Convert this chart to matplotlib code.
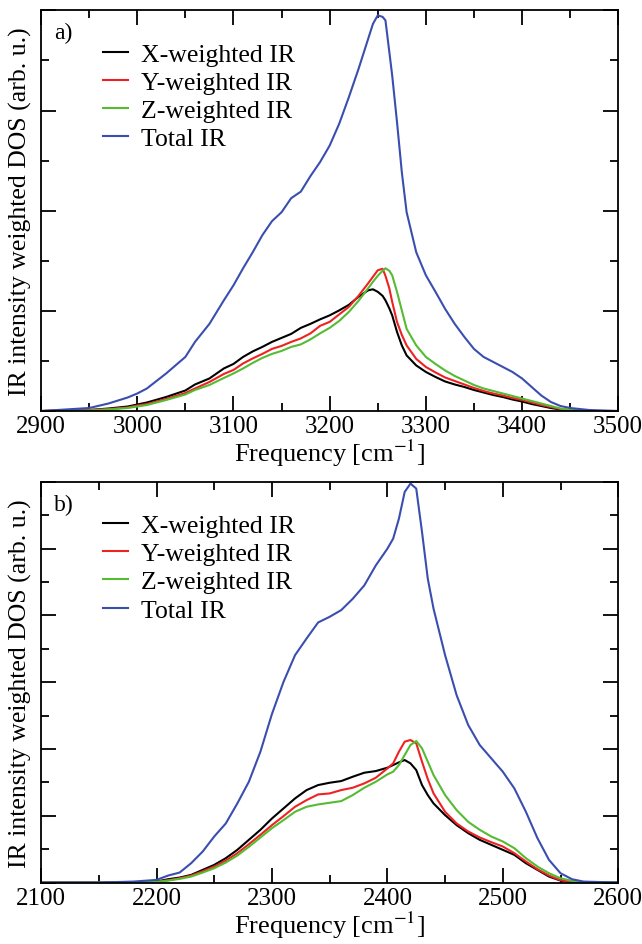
import matplotlib
matplotlib.use('Agg')
import matplotlib.pyplot as plt
from matplotlib.ticker import MultipleLocator, NullFormatter

plt.rcParams['font.family'] = ['Liberation Serif', 'DejaVu Serif']
plt.rcParams['mathtext.fontset'] = 'stix'

# panel a) : 2900 - 3500 cm^-1
freq_a = [2900, 2950, 2970, 2990, 3000, 3010, 3030, 3050, 3060, 3075, 3090, 3100,
          3110, 3120, 3130, 3140, 3150, 3160, 3170, 3180, 3190, 3200, 3210, 3220,
          3230, 3240, 3245, 3250, 3255, 3258, 3262, 3265, 3270, 3275, 3280, 3290,
          3300, 3310, 3320, 3330, 3340, 3350, 3360, 3370, 3380, 3390, 3400, 3410,
          3420, 3430, 3440, 3450, 3470, 3500]
total_a = [0.0, 0.06, 0.15, 0.27, 0.35, 0.45, 0.75, 1.08, 1.38, 1.74, 2.21, 2.51,
           2.85, 3.17, 3.51, 3.79, 3.97, 4.25, 4.38, 4.69, 4.97, 5.30, 5.74, 6.27,
           6.83, 7.43, 7.73, 7.90, 7.87, 7.80, 7.17, 6.70, 5.77, 4.77, 3.97, 3.17,
           2.71, 2.38, 2.04, 1.74, 1.48, 1.24, 1.08, 0.98, 0.88, 0.78, 0.65, 0.48,
           0.31, 0.18, 0.10, 0.06, 0.02, 0.0]
x_a = [0.0, 0.02, 0.05, 0.09, 0.13, 0.17, 0.28, 0.41, 0.53, 0.65, 0.85, 0.94,
       1.08, 1.19, 1.28, 1.38, 1.46, 1.54, 1.66, 1.74, 1.83, 1.91, 2.01, 2.12,
       2.28, 2.41, 2.43, 2.38, 2.30, 2.21, 2.05, 1.91, 1.58, 1.31, 1.11, 0.91,
       0.78, 0.68, 0.59, 0.53, 0.48, 0.42, 0.37, 0.32, 0.28, 0.23, 0.19, 0.14,
       0.10, 0.06, 0.03, 0.01, 0.0, 0.0]
y_a = [0.0, 0.02, 0.04, 0.07, 0.11, 0.14, 0.24, 0.36, 0.45, 0.58, 0.74, 0.82,
       0.95, 1.05, 1.14, 1.24, 1.30, 1.38, 1.45, 1.55, 1.70, 1.78, 1.93, 2.08,
       2.30, 2.55, 2.68, 2.81, 2.84, 2.70, 2.45, 2.18, 1.78, 1.52, 1.31, 1.04,
       0.88, 0.77, 0.67, 0.60, 0.53, 0.46, 0.40, 0.35, 0.31, 0.26, 0.22, 0.17,
       0.12, 0.08, 0.04, 0.02, 0.0, 0.0]
z_a = [0.0, 0.01, 0.03, 0.06, 0.09, 0.12, 0.22, 0.33, 0.42, 0.52, 0.66, 0.75,
       0.85, 0.96, 1.06, 1.14, 1.20, 1.28, 1.33, 1.43, 1.55, 1.66, 1.80, 1.98,
       2.20, 2.45, 2.58, 2.70, 2.80, 2.85, 2.80, 2.71, 2.38, 2.01, 1.64, 1.31,
       1.08, 0.94, 0.81, 0.70, 0.61, 0.52, 0.45, 0.40, 0.35, 0.30, 0.25, 0.20,
       0.15, 0.10, 0.05, 0.02, 0.0, 0.0]

# panel b) : 2100 - 2600 cm^-1
freq_b = [2100, 2150, 2180, 2200, 2210, 2220, 2230, 2240, 2250, 2260, 2270, 2280,
          2290, 2300, 2310, 2320, 2330, 2340, 2350, 2360, 2370, 2380, 2390, 2400,
          2405, 2410, 2415, 2420, 2425, 2430, 2435, 2440, 2450, 2460, 2470, 2480,
          2490, 2500, 2510, 2520, 2530, 2540, 2550, 2560, 2570, 2600]
total_b = [0.0, 0.0, 0.03, 0.08, 0.21, 0.30, 0.58, 0.93, 1.38, 1.77, 2.37, 3.02,
           3.92, 5.05, 6.01, 6.81, 7.31, 7.79, 7.96, 8.16, 8.50, 8.90, 9.50, 10.0,
           10.3, 10.9, 11.7, 11.95, 11.8, 10.5, 9.1, 8.2, 6.81, 5.61, 4.72, 4.12,
           3.72, 3.32, 2.82, 2.12, 1.33, 0.68, 0.28, 0.10, 0.03, 0.0]
x_b = [0.0, 0.0, 0.01, 0.03, 0.10, 0.15, 0.23, 0.38, 0.53, 0.73, 0.98, 1.28,
       1.58, 1.92, 2.22, 2.52, 2.77, 2.92, 2.99, 3.04, 3.17, 3.29, 3.34, 3.44,
       3.52, 3.60, 3.67, 3.57, 3.37, 2.92, 2.62, 2.37, 2.02, 1.72, 1.48, 1.28,
       1.13, 0.98, 0.83, 0.58, 0.38, 0.18, 0.06, 0.02, 0.0, 0.0]
y_b = [0.0, 0.0, 0.01, 0.02, 0.07, 0.13, 0.21, 0.34, 0.48, 0.66, 0.88, 1.15,
       1.43, 1.72, 1.99, 2.27, 2.47, 2.64, 2.67, 2.77, 2.84, 2.97, 3.14, 3.42,
       3.57, 3.92, 4.22, 4.27, 4.17, 3.62, 3.10, 2.67, 2.12, 1.77, 1.53, 1.35,
       1.21, 1.08, 0.88, 0.63, 0.40, 0.21, 0.07, 0.02, 0.0, 0.0]
z_b = [0.0, 0.0, 0.01, 0.02, 0.06, 0.11, 0.18, 0.30, 0.43, 0.60, 0.81, 1.07,
       1.35, 1.63, 1.87, 2.12, 2.27, 2.34, 2.39, 2.44, 2.62, 2.84, 3.02, 3.24,
       3.32, 3.52, 3.82, 4.12, 4.24, 4.02, 3.62, 3.22, 2.62, 2.17, 1.82, 1.58,
       1.38, 1.23, 1.03, 0.73, 0.48, 0.28, 0.13, 0.05, 0.01, 0.0]

labels = ['X-weighted IR', 'Y-weighted IR', 'Z-weighted IR', 'Total IR']
colors = ['#000000', '#ee2222', '#55bb33', '#3a4eb0']

fig = plt.figure(figsize=(6.42, 9.45), dpi=100)
ax_a = fig.add_axes([0.064, 0.564, 0.899, 0.424])
ax_b = fig.add_axes([0.064, 0.065, 0.899, 0.424])


def draw_panel(ax, freq, series, xlim, ylim, tag):
    for s, lab, c in zip(series, labels, colors):
        ax.plot(freq, s, color=c, lw=1.5, label=lab)
    ax.set_xlim(*xlim)
    ax.set_ylim(*ylim)
    ax.xaxis.set_major_locator(MultipleLocator(100))
    ax.xaxis.set_minor_locator(MultipleLocator(50))
    ax.yaxis.set_major_locator(MultipleLocator(2))
    ax.yaxis.set_minor_locator(MultipleLocator(1))
    ax.yaxis.set_major_formatter(NullFormatter())
    ax.tick_params(which='both', direction='in', top=True, right=True,
                   labelsize=18, width=1.3)
    ax.tick_params(which='major', length=11, pad=3)
    ax.tick_params(which='minor', length=6)
    for sp in ax.spines.values():
        sp.set_linewidth(1.3)
    ax.set_xlabel('Frequency [cm$^{-1}$]', fontsize=19, labelpad=0)
    ax.set_ylabel('IR intensity weighted DOS (arb. u.)', fontsize=18.5, labelpad=3)
    ax.text(0.022, 0.97, tag, transform=ax.transAxes, fontsize=17,
            va='top', ha='left')
    ax.legend(loc='upper left', bbox_to_anchor=(0.09, 0.945), frameon=False,
              fontsize=18.5, handlelength=0.95, handletextpad=0.5,
              labelspacing=0.2, borderaxespad=0)


draw_panel(ax_a, freq_a, [x_a, y_a, z_a, total_a], (2900, 3500), (0, 8), 'a)')
draw_panel(ax_b, freq_b, [x_b, y_b, z_b, total_b], (2100, 2600), (0, 12), 'b)')

fig.savefig('out.png', dpi=100)
